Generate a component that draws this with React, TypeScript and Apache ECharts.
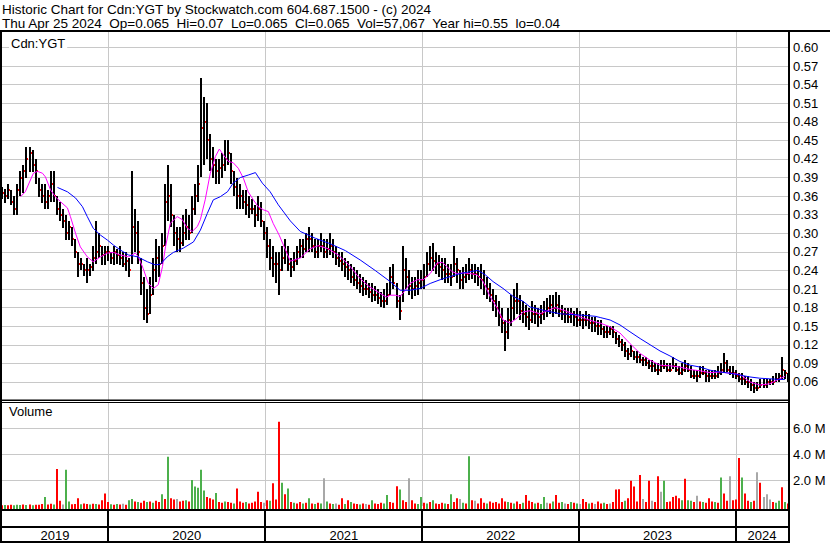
import React, { useEffect, useRef } from 'react';
import * as echarts from 'echarts';

const FONT = '"Liberation Sans", Arial, sans-serif';
const DAY = 86400000;
const firstWeek = Date.UTC(2019, 3, 30);
const axisStart = Date.UTC(2019, 3, 29);
const axisEnd = Date.UTC(2024, 4, 1);

const titleLine1 = 'Historic Chart for Cdn:YGT by Stockwatch.com 604.687.1500 - (c) 2024';
const titleLine2 = 'Thu Apr 25 2024  Op=0.065  Hi=0.07  Lo=0.065  Cl=0.065  Vol=57,067  Year hi=0.55  lo=0.04';
const symbolLabel = 'Cdn:YGT';
const volumeLabel = 'Volume';

const priceAxis = { min: 0.03, max: 0.625, step: 0.03 };
const volumeAxis = { min: 0, max: 8.03e6, step: 2e6, lastLabel: 6e6 };

const yearBoundaries = ['2020-01-01', '2021-01-01', '2022-01-01', '2023-01-01', '2024-01-01'];
const yearLabels = ['2019', '2020', '2021', '2022', '2023', '2024'];

// weekly bars
const highs = [
  .375,.372,.38,.37,.36,.38,.40,.41,.44,.44,
  .435,.42,.39,.38,.38,.37,.40,.40,.36,.35,
  .34,.33,.32,.31,.29,.27,.26,.25,.26,.25,
  .28,.32,.30,.28,.28,.28,.27,.28,.275,.28,
  .27,.27,.26,.40,.34,.32,.26,.23,.21,.23,
  .26,.29,.28,.30,.38,.41,.38,.33,.31,.31,
  .33,.34,.33,.36,.38,.41,.55,.52,.51,.46,
  .44,.42,.42,.43,.45,.45,.43,.40,.39,.38,
  .37,.37,.36,.355,.345,.36,.35,.32,.31,.29,
  .28,.27,.27,.28,.29,.28,.26,.27,.28,.29,
  .29,.30,.31,.30,.29,.29,.30,.29,.29,.30,
  .29,.28,.27,.27,.26,.255,.25,.245,.24,.235,
  .23,.225,.22,.22,.215,.21,.205,.21,.22,.245,
  .25,.22,.20,.28,.26,.24,.23,.23,.24,.24,
  .25,.27,.28,.285,.27,.265,.26,.26,.25,.25,
  .28,.26,.24,.245,.25,.26,.25,.25,.245,.25,
  .24,.23,.22,.21,.20,.19,.18,.16,.18,.20,
  .21,.22,.20,.19,.185,.18,.19,.185,.18,.185,
  .19,.195,.20,.20,.205,.20,.185,.18,.18,.18,
  .175,.18,.175,.17,.175,.17,.165,.165,.16,.16,
  .15,.15,.15,.15,.14,.135,.13,.125,.115,.12,
  .11,.11,.105,.10,.10,.095,.095,.09,.09,.095,
  .095,.09,.09,.10,.09,.085,.09,.095,.09,.085,
  .08,.08,.085,.085,.08,.08,.08,.08,.085,.09,
  .107,.095,.085,.085,.08,.075,.075,.07,.07,.065,
  .06,.06,.065,.065,.065,.065,.07,.075,.075,.10,
  .08,.075
];
const lows = [
  .355,.35,.355,.345,.33,.33,.36,.365,.39,.40,
  .40,.38,.36,.35,.34,.34,.35,.35,.33,.32,
  .31,.29,.29,.28,.26,.23,.24,.23,.22,.23,
  .24,.25,.26,.25,.25,.255,.25,.25,.25,.25,
  .245,.24,.23,.25,.27,.25,.20,.16,.155,.17,
  .20,.22,.23,.25,.28,.32,.31,.28,.27,.27,
  .28,.29,.29,.30,.33,.35,.39,.41,.42,.40,
  .39,.38,.38,.39,.40,.41,.38,.36,.34,.34,
  .34,.33,.325,.33,.31,.32,.31,.29,.26,.24,
  .23,.22,.20,.24,.25,.24,.23,.24,.25,.26,
  .26,.27,.27,.27,.26,.26,.27,.26,.26,.265,
  .26,.25,.245,.24,.23,.225,.22,.215,.21,.205,
  .20,.20,.195,.19,.19,.185,.18,.18,.185,.20,
  .21,.18,.16,.19,.21,.20,.195,.20,.20,.21,
  .21,.23,.24,.24,.235,.23,.225,.22,.22,.215,
  .23,.22,.21,.21,.22,.225,.225,.22,.215,.21,
  .20,.195,.19,.175,.165,.15,.14,.11,.13,.15,
  .16,.17,.16,.155,.15,.145,.155,.155,.15,.155,
  .16,.165,.17,.165,.17,.165,.16,.155,.155,.155,
  .15,.15,.15,.145,.15,.145,.14,.14,.135,.135,
  .13,.13,.135,.13,.12,.115,.11,.10,.095,.10,
  .095,.09,.09,.085,.085,.08,.075,.075,.07,.075,
  .08,.075,.075,.08,.075,.07,.07,.075,.075,.065,
  .065,.06,.065,.07,.06,.06,.065,.065,.065,.07,
  .075,.075,.07,.065,.065,.06,.055,.055,.05,.045,
  .042,.045,.05,.05,.05,.055,.055,.06,.06,.065,
  .065,.06
];
const closes = [
  .365,.36,.37,.35,.34,.37,.39,.40,.42,.43,
  .41,.40,.37,.36,.35,.36,.38,.36,.34,.33,
  .32,.30,.31,.29,.27,.25,.25,.24,.24,.245,
  .26,.27,.28,.265,.27,.27,.26,.27,.265,.26,
  .25,.255,.24,.31,.30,.27,.22,.18,.17,.20,
  .24,.26,.25,.28,.35,.36,.33,.30,.29,.285,
  .30,.31,.30,.34,.36,.38,.47,.48,.45,.42,
  .41,.40,.405,.41,.42,.43,.40,.375,.36,.36,
  .35,.345,.34,.34,.33,.34,.32,.30,.28,.26,
  .25,.25,.24,.26,.27,.25,.245,.255,.27,.28,
  .275,.29,.29,.28,.27,.28,.28,.27,.275,.28,
  .27,.26,.255,.25,.245,.24,.23,.225,.22,.215,
  .21,.21,.205,.20,.20,.195,.19,.19,.20,.23,
  .22,.19,.175,.24,.23,.215,.21,.215,.22,.225,
  .23,.25,.26,.255,.25,.245,.24,.235,.235,.23,
  .25,.24,.225,.23,.235,.24,.235,.235,.23,.225,
  .215,.21,.20,.19,.18,.165,.155,.14,.16,.18,
  .19,.19,.175,.17,.165,.16,.17,.17,.165,.17,
  .175,.18,.185,.18,.185,.175,.17,.17,.165,.17,
  .165,.16,.16,.16,.16,.155,.155,.15,.15,.145,
  .14,.14,.145,.14,.13,.125,.12,.11,.105,.11,
  .10,.10,.095,.095,.09,.085,.085,.08,.08,.085,
  .085,.08,.08,.085,.08,.075,.08,.085,.08,.07,
  .07,.07,.075,.075,.07,.07,.07,.07,.075,.08,
  .09,.08,.075,.075,.07,.065,.065,.06,.06,.055,
  .05,.05,.055,.055,.06,.06,.06,.065,.07,.08,
  .075,.065
];
// weekly volume in thousands of shares, and direction (1 up, -1 down, 0 unchanged)
const volumesK = [
  60,80,50,100,60,90,70,110,80,120,
  60,100,90,150,700,120,180,110,2850,400,
  120,2800,350,130,150,600,140,200,160,120,
  180,150,120,450,970,300,130,100,150,120,
  180,100,450,550,350,300,250,400,300,350,
  250,400,300,900,550,3800,600,500,550,350,
  400,450,350,2000,1500,1400,2800,1200,700,600,
  500,1000,300,250,350,300,250,200,1350,350,
  250,300,200,250,350,1100,300,250,450,400,
  1750,500,6500,1800,900,1350,300,250,200,300,
  200,250,600,200,150,250,200,2150,350,200,
  150,200,100,600,150,450,300,200,150,120,
  200,150,100,450,200,150,250,200,840,300,
  250,1530,1270,450,300,2150,450,200,150,700,
  250,200,300,450,200,150,250,200,150,900,
  300,600,550,250,200,3850,450,400,200,600,
  250,200,350,250,300,200,600,350,300,250,
  200,350,150,250,840,400,300,200,250,150,
  700,250,200,350,840,250,300,200,150,300,
  250,200,150,550,300,200,250,150,350,200,
  250,150,200,300,1270,1300,300,400,600,1950,
  1500,350,2400,550,300,1950,400,300,2300,1100,
  1950,300,350,700,800,600,450,2100,450,400,
  300,800,350,300,250,600,350,300,250,2200,
  970,400,2300,450,500,3700,2200,970,400,300,
  400,2600,1800,700,900,500,300,250,400,1450,
  300,200
];
const volumeDir = [
  -1,1,-1,-1,1,1,1,-1,1,-1,
  1,-1,-1,-1,1,-1,-1,1,-1,-1,
  0,1,1,-1,-1,-1,1,-1,-1,1,
  -1,1,-1,-1,-1,-1,1,-1,1,-1,
  0,-1,1,1,-1,1,-1,-1,1,-1,
  1,-1,-1,1,-1,1,-1,-1,0,-1,
  -1,1,-1,1,1,1,1,1,-1,-1,
  -1,1,-1,-1,1,-1,-1,1,-1,-1,
  -1,1,-1,-1,-1,-1,-1,0,-1,1,
  -1,-1,-1,1,-1,1,-1,1,-1,-1,
  1,-1,1,-1,1,-1,1,0,1,-1,
  1,0,-1,-1,1,-1,1,-1,-1,1,
  -1,0,-1,1,-1,-1,-1,1,1,-1,
  -1,-1,1,-1,-1,0,-1,-1,1,1,
  -1,1,-1,1,-1,-1,-1,1,-1,1,
  -1,-1,0,1,-1,1,-1,0,-1,-1,
  -1,1,-1,-1,-1,-1,-1,-1,1,-1,
  1,-1,-1,1,-1,-1,-1,1,-1,1,
  1,0,-1,1,-1,-1,1,0,-1,1,
  -1,1,0,-1,-1,1,-1,0,-1,-1,
  1,-1,0,-1,-1,-1,-1,1,-1,-1,
  -1,-1,-1,0,-1,-1,0,-1,-1,0,
  1,-1,-1,-1,-1,-1,1,-1,1,1,
  -1,0,-1,1,-1,-1,-1,1,-1,1,
  -1,-1,0,-1,-1,-1,1,-1,-1,1,
  -1,0,-1,0,0,0,-1,1,1,-1,
  1,-1
];
// moving averages: [week index, price]
const shortMA = [
  [6.0,.359],[7.6,.367],[9.3,.386],[10.3,.397],[11.6,.400],[13.3,.397],[14.3,.391],[16.0,.370],[17.6,.359],[19.3,.351],
  [21.6,.341],[22.6,.327],[24.3,.300],[25.9,.278],[28.2,.262],[30.2,.254],[32.6,.262],[34.9,.268],[36.9,.269],[39.2,.265],
  [41.9,.262],[44.2,.268],[45.2,.262],[46.8,.243],[48.5,.219],[50.2,.211],[51.8,.217],[53.2,.246],[54.2,.278],[55.8,.316],
  [58.1,.327],[59.8,.322],[61.5,.308],[63.1,.303],[64.8,.311],[65.8,.322],[67.4,.354],[69.1,.397],[70.8,.424],[72.1,.436],
  [73.4,.427],[75.1,.416],[76.7,.414],[78.4,.405],[80.1,.389],[81.7,.367],[83.4,.354],[85.0,.343],[86.7,.338],[88.4,.335],
  [90.0,.316],[92.0,.297],[95.7,.255],[99.0,.260],[102.3,.275],[105.0,.280],[108.3,.275],[111.6,.265],[115.0,.250],[118.3,.230],
  [121.6,.215],[124.9,.205],[127.6,.197],[128.9,.200],[130.6,.200],[132.2,.198],[133.9,.208],[135.5,.219],[137.9,.225],[139.9,.225],
  [142.2,.235],[144.5,.252],[146.2,.253],[147.8,.246],[149.5,.238],[151.2,.235],[153.2,.236],[155.5,.235],[157.8,.233],[159.8,.222],
  [162.1,.198],[164.5,.179],[166.4,.160],[168.8,.155],[171.1,.163],[173.1,.173],[175.4,.175],[178.7,.170],[183.7,.180],[187.0,.175],
  [192.0,.165],[197.0,.157],[198.7,.155],[202.0,.149],[205.3,.139],[208.6,.122],[212.0,.106],[215.3,.095],[218.6,.087],[221.9,.086],
  [225.2,.084],[228.6,.080],[231.9,.078],[235.2,.075],[238.5,.076],[241.9,.074],[245.2,.072],[248.5,.060],[251.8,.055],[255.1,.057],
  [257.5,.063],[260.1,.069]
];
const longMA = [
  [18.3,.374],[21.6,.367],[24.3,.357],[26.6,.343],[28.2,.327],[30.2,.308],[32.6,.297],[34.9,.289],[36.9,.281],[39.2,.273],
  [41.9,.265],[44.9,.262],[48.2,.254],[50.8,.249],[52.5,.250],[54.8,.262],[56.8,.269],[60.1,.276],[63.5,.286],[65.8,.305],
  [68.1,.332],[70.1,.354],[72.4,.359],[74.8,.367],[76.7,.381],[79.1,.390],[81.7,.394],[84.1,.398],[86.4,.381],[89.0,.367],
  [91.7,.346],[95.7,.320],[99.0,.303],[104.0,.292],[109.0,.283],[114.0,.272],[118.9,.257],[123.9,.240],[128.9,.222],[132.2,.208],
  [135.5,.208],[138.9,.211],[142.2,.219],[145.5,.225],[148.8,.230],[152.2,.235],[155.5,.238],[158.1,.240],[160.5,.233],[163.1,.222],
  [166.4,.211],[169.8,.198],[173.1,.190],[175.4,.181],[180.4,.175],[185.4,.170],[192.0,.168],[197.0,.166],[198.7,.164],[202.0,.160],
  [205.3,.152],[208.6,.141],[212.0,.130],[215.3,.120],[218.6,.110],[221.9,.102],[225.2,.093],[228.6,.087],[231.9,.084],[235.2,.079],
  [238.5,.076],[241.9,.074],[245.2,.071],[248.5,.068],[251.8,.066],[255.1,.065],[258.5,.064],[260.1,.064]
];

const weekTime = (w: number) => firstWeek + w * 7 * DAY;
const ts = (s: string) => new Date(s + 'T00:00:00Z').getTime();

function buildOption() {
  const priceData = highs.map((h, i) => [weekTime(i), h, lows[i], closes[i]]);
  const volData = volumesK.map((v, i) => [weekTime(i), v * 1000, volumeDir[i]]);
  const boundaryData = yearBoundaries.map((d) => [ts(d), 0]);
  const yearSpans = yearLabels.map((y) => [
    Math.max(ts(`${y}-01-01`), axisStart),
    Math.min(ts(`${Number(y) + 1}-01-01`), axisEnd),
    0,
  ]);
  const grid = '#c8c8c8';
  const xAxisBase = { type: 'time', min: axisStart, max: axisEnd, show: false };

  const yearLine = (gridIdx: number, color: string, width: number) => ({
    type: 'custom',
    xAxisIndex: gridIdx,
    yAxisIndex: gridIdx,
    data: boundaryData,
    encode: { x: 0, y: 1 },
    z: 1,
    silent: true,
    renderItem: (params: any, api: any) => {
      const p = api.coord([api.value(0), 0]);
      const cs = params.coordSys;
      const x = Math.round(p[0]) + (width % 2 ? 0.5 : 0);
      return {
        type: 'line',
        shape: { x1: x, y1: cs.y, x2: x, y2: cs.y + cs.height },
        style: { stroke: color, lineWidth: width },
      };
    },
  });

  return {
    animation: false,
    backgroundColor: '#fff',
    grid: [
      { left: 2, top: 32, width: 786, height: 368.5 },
      { left: 2, top: 402, width: 786, height: 104 },
      { left: 2, top: 510, width: 786, height: 32 },
    ],
    xAxis: [
      { ...xAxisBase, gridIndex: 0 },
      { ...xAxisBase, gridIndex: 1 },
      { ...xAxisBase, gridIndex: 2 },
    ],
    yAxis: [
      {
        gridIndex: 0, type: 'value', position: 'right',
        min: priceAxis.min, max: priceAxis.max, interval: priceAxis.step,
        axisLine: { show: false }, axisTick: { show: false },
        axisLabel: {
          showMinLabel: false, showMaxLabel: false, margin: 5,
          color: '#000', fontSize: 13, fontFamily: FONT,
          formatter: (v: number) => v.toFixed(2),
        },
        splitLine: { show: true, showMinLine: false, showMaxLine: false, lineStyle: { color: grid, width: 1 } },
      },
      {
        gridIndex: 1, type: 'value', position: 'right',
        min: volumeAxis.min, max: volumeAxis.max, interval: volumeAxis.step,
        axisLine: { show: false }, axisTick: { show: false },
        axisLabel: {
          showMinLabel: false, showMaxLabel: false, margin: 5,
          color: '#000', fontSize: 13, fontFamily: FONT,
          formatter: (v: number) => (v > 0 && v <= volumeAxis.lastLabel ? (v / 1e6).toFixed(1) + ' M' : ''),
        },
        splitLine: { show: true, showMinLine: false, showMaxLine: false, lineStyle: { color: grid, width: 1 } },
      },
      { gridIndex: 2, type: 'value', min: 0, max: 1, show: false },
    ],
    graphic: [
      { type: 'text', x: 2, y: 2, style: { text: titleLine1, font: `13.5px ${FONT}`, fill: '#000', align: 'left', verticalAlign: 'top' } },
      { type: 'text', x: 2, y: 16, style: { text: titleLine2, font: `13.5px ${FONT}`, fill: '#000', align: 'left', verticalAlign: 'top' } },
      { type: 'rect', shape: { x: 0, y: 30, width: 830, height: 2 }, style: { fill: '#000' }, z: 100 },
      { type: 'rect', shape: { x: 0, y: 30, width: 2, height: 513 }, style: { fill: '#000' }, z: 100 },
      { type: 'rect', shape: { x: 788, y: 30, width: 2, height: 513 }, style: { fill: '#000' }, z: 100 },
      { type: 'rect', shape: { x: 0, y: 399.5, width: 789, height: 1.5 }, style: { fill: '#000' }, z: 100 },
      { type: 'rect', shape: { x: 0, y: 402, width: 789, height: 1 }, style: { fill: '#000' }, z: 100 },
      { type: 'rect', shape: { x: 0, y: 509, width: 789, height: 2 }, style: { fill: '#000' }, z: 100 },
      { type: 'rect', shape: { x: 0, y: 526, width: 789, height: 2 }, style: { fill: '#000' }, z: 100 },
      { type: 'rect', shape: { x: 0, y: 541, width: 789, height: 2 }, style: { fill: '#000' }, z: 100 },
      { type: 'text', x: 9, y: 36, z: 100, style: { text: symbolLabel, font: `13px ${FONT}`, fill: '#000', backgroundColor: '#fff', padding: [1, 2], align: 'left', verticalAlign: 'top' } },
      { type: 'text', x: 9, y: 405, z: 100, style: { text: volumeLabel, font: `13px ${FONT}`, fill: '#000', align: 'left', verticalAlign: 'top' } },
    ],
    series: [
      yearLine(0, grid, 1),
      yearLine(1, grid, 1),
      {
        type: 'custom',
        xAxisIndex: 2, yAxisIndex: 2,
        data: yearSpans,
        encode: { x: [0, 1], y: 2 },
        silent: true,
        renderItem: (params: any, api: any) => {
          const s = api.value(0), e = api.value(1);
          const cs = params.coordSys;
          const xs = api.coord([s, 0])[0];
          const xe = api.coord([e, 0])[0];
          const children: any[] = [
            { type: 'text', x: (xs + xe) / 2, y: cs.y + 25, style: { text: yearLabels[params.dataIndex], font: `13px ${FONT}`, fill: '#000', align: 'center', verticalAlign: 'middle' } },
          ];
          if (s > axisStart) {
            children.push({ type: 'rect', shape: { x: Math.round(xs) - 1, y: cs.y, width: 2, height: cs.height }, style: { fill: '#000' } });
          }
          return { type: 'group', children };
        },
      },
      {
        type: 'custom',
        name: 'Price',
        xAxisIndex: 0, yAxisIndex: 0,
        data: priceData,
        encode: { x: 0, y: [1, 2] },
        z: 3,
        silent: true,
        renderItem: (params: any, api: any) => {
          const d = api.value(0);
          const pH = api.coord([d, api.value(1)]);
          const pL = api.coord([d, api.value(2)]);
          return {
            type: 'rect',
            shape: { x: Math.round(pH[0] - 1), y: Math.round(pH[1]), width: 2, height: Math.max(1, Math.round(pL[1] - pH[1])) },
            style: { fill: '#000' },
          };
        },
      },
      {
        type: 'custom',
        name: 'Close',
        xAxisIndex: 0, yAxisIndex: 0,
        data: priceData,
        encode: { x: 0, y: 3 },
        z: 4,
        silent: true,
        renderItem: (params: any, api: any) => {
          const pC = api.coord([api.value(0), api.value(3)]);
          return {
            type: 'rect',
            shape: { x: Math.round(pC[0] - 1) + 2, y: Math.round(pC[1]) - 1, width: 1, height: 2 },
            style: { fill: '#ff0000' },
          };
        },
      },
      {
        type: 'line', name: 'MA short', xAxisIndex: 0, yAxisIndex: 0,
        data: shortMA.map(([w, v]) => [weekTime(w), v]),
        symbol: 'none', z: 5, silent: true,
        lineStyle: { color: '#ff00ff', width: 1 },
      },
      {
        type: 'line', name: 'MA long', xAxisIndex: 0, yAxisIndex: 0,
        data: longMA.map(([w, v]) => [weekTime(w), v]),
        symbol: 'none', z: 5, silent: true,
        lineStyle: { color: '#0000ff', width: 1 },
      },
      {
        type: 'custom',
        name: 'Volume',
        xAxisIndex: 1, yAxisIndex: 1,
        data: volData,
        encode: { x: 0, y: 1 },
        z: 3,
        silent: true,
        renderItem: (params: any, api: any) => {
          const d = api.value(0);
          const top = api.coord([d, api.value(1)]);
          const base = api.coord([d, 0]);
          const dir = api.value(2);
          const fill = dir > 0 ? '#4cb04c' : dir < 0 ? '#ff0000' : '#a8a8a8';
          return {
            type: 'rect',
            shape: { x: Math.round(top[0] - 1), y: top[1], width: 2, height: base[1] + 3 - top[1] },
            style: { fill },
          };
        },
      },
    ],
  };
}

export default function App() {
  const ref = useRef<HTMLDivElement>(null);
  useEffect(() => {
    if (!ref.current) return;
    const chart = echarts.init(ref.current, undefined, { renderer: 'svg' });
    chart.setOption(buildOption() as any);
    return () => chart.dispose();
  }, []);
  return (
    <div
      ref={ref}
      style={{ position: 'absolute', left: 0, top: 0, width: 830, height: 543, background: '#fff' }}
    />
  );
}
